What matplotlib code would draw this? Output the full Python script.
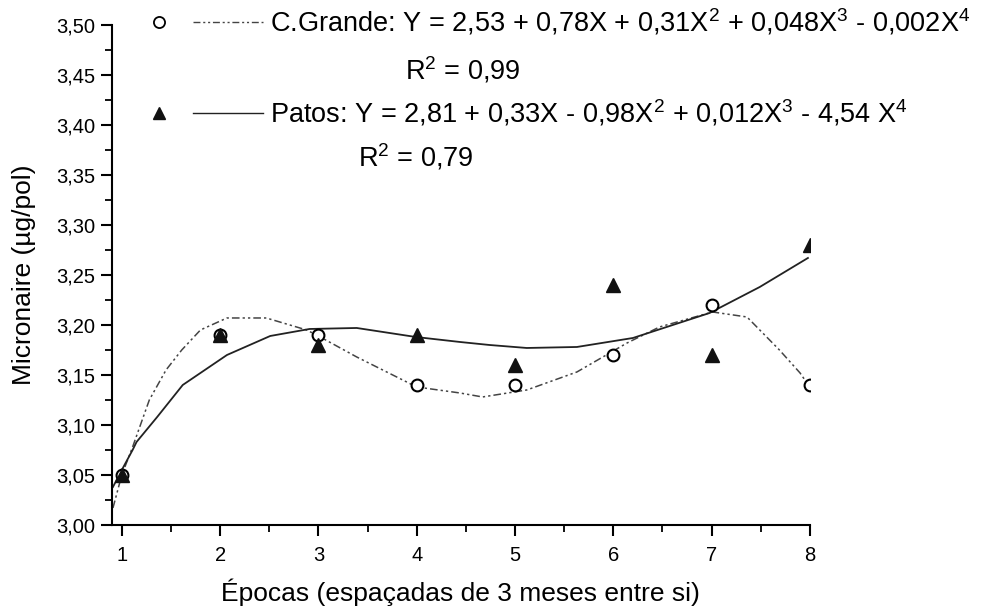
import numpy as np
import matplotlib.pyplot as plt
from matplotlib.lines import Line2D
from matplotlib.ticker import MultipleLocator, FuncFormatter

plt.rcParams['font.family'] = ['Liberation Sans', 'DejaVu Sans']
plt.rcParams['mathtext.fontset'] = 'custom'
plt.rcParams['mathtext.rm'] = 'Liberation Sans'
plt.rcParams['mathtext.it'] = 'Liberation Sans'

# Épocas e valores observados
epocas = [1, 2, 3, 4, 5, 6, 7, 8]
cgrande = [3.05, 3.19, 3.19, 3.14, 3.14, 3.17, 3.22, 3.14]
patos = [3.05, 3.19, 3.18, 3.19, 3.16, 3.24, 3.17, 3.28]

# Curvas ajustadas
curva_cg_x = [0.91, 1.0, 1.11, 1.28, 1.45, 1.61, 1.80, 2.07, 2.47, 2.88, 3.0, 3.39,
              4.0, 4.44, 4.67, 5.12, 5.63, 6.14, 6.47, 7.01, 7.36, 7.69, 7.90, 7.97]
curva_cg_y = [3.017, 3.05, 3.078, 3.125, 3.155, 3.175, 3.195, 3.207, 3.207, 3.195, 3.189, 3.168,
              3.138, 3.132, 3.128, 3.135, 3.153, 3.182, 3.198, 3.213, 3.208, 3.175, 3.152, 3.142]
curva_pt_x = [0.91, 1.0, 1.11, 1.15, 1.36, 1.62, 2.07, 2.51, 2.91, 3.39, 3.99,
              4.44, 4.74, 5.12, 5.63, 6.20, 6.98, 7.49, 7.98]
curva_pt_y = [3.038, 3.055, 3.075, 3.083, 3.108, 3.14, 3.17, 3.189, 3.196, 3.197, 3.188,
              3.183, 3.18, 3.177, 3.178, 3.187, 3.212, 3.238, 3.267]

fig = plt.figure(figsize=(9.83, 6.11), dpi=100)
ax = fig.add_axes([0.1139, 0.1408, 0.710, 0.8183])

tracejado = (0, (5, 2, 1.5, 2, 1.5, 2))
ax.plot(curva_cg_x, curva_cg_y, color='#444444', lw=1.1, linestyle=tracejado, zorder=2)
ax.plot(curva_pt_x, curva_pt_y, color='#222222', lw=1.3, zorder=2)
ax.plot(epocas, cgrande, 'o', ms=8.5, mfc='white', mec='black', mew=1.5, zorder=3)
ax.plot(epocas, patos, '^', ms=10, color='#111111', zorder=4)

ax.set_xlim(0.9, 8)
ax.set_ylim(3.0, 3.5)
ax.xaxis.set_major_locator(MultipleLocator(1))
ax.xaxis.set_minor_locator(MultipleLocator(0.5))
ax.yaxis.set_major_locator(MultipleLocator(0.05))
ax.yaxis.set_minor_locator(MultipleLocator(0.025))
ax.yaxis.set_major_formatter(FuncFormatter(lambda v, p: f'{v:.2f}'.replace('.', ',')))
ax.xaxis.set_major_formatter(FuncFormatter(lambda v, p: f'{v:.0f}'))

for s in ['top', 'right']:
    ax.spines[s].set_visible(False)
for s in ['left', 'bottom']:
    ax.spines[s].set_linewidth(1.5)
ax.tick_params(which='major', direction='out', length=8, width=1.5, labelsize=14.5)
ax.tick_params(axis='x', which='major', pad=7)
ax.tick_params(axis='y', which='major', pad=4)
ax.tick_params(which='minor', direction='out', length=5, width=1.3)

ax.set_xlabel('Épocas (espaçadas de 3 meses entre si)', fontsize=19, labelpad=10)
fig.text(0.024, 0.55, 'Micronaire (µg/pol)', rotation=90, fontsize=19,
         ha='center', va='center')

# Legenda montada à mão
def fx(px):
    return px / 983

def fy(py):
    return 1 - py / 611

fig.add_artist(Line2D([fx(159)], [fy(22)], marker='o', ms=8, mfc='white',
                      mec='black', mew=1.3, linestyle='none'))
fig.add_artist(Line2D([fx(193), fx(263)], [fy(22), fy(22)], color='#444444',
                      lw=1.0, linestyle=tracejado))
fig.add_artist(Line2D([fx(159)], [fy(113)], marker='^', ms=9, color='#111111',
                      linestyle='none'))
fig.add_artist(Line2D([fx(193), fx(263)], [fy(113), fy(113)], color='#222222', lw=1.0))

fs = 19.5
fig.text(fx(270), fy(22), r'C.Grande: Y = 2,53 + 0,78X + 0,31X$^{2}$ + 0,048X$^{3}$ - 0,002X$^{4}$',
         fontsize=fs, va='center', ha='left')
fig.text(fx(405), fy(70), r'R$^{2}$ = 0,99', fontsize=fs, va='center', ha='left')
fig.text(fx(270), fy(113), r'Patos: Y = 2,81 + 0,33X - 0,98X$^{2}$ + 0,012X$^{3}$ - 4,54 X$^{4}$',
         fontsize=fs, va='center', ha='left')
fig.text(fx(358), fy(157), r'R$^{2}$ = 0,79', fontsize=fs, va='center', ha='left')

fig.savefig('out.png', dpi=100)
